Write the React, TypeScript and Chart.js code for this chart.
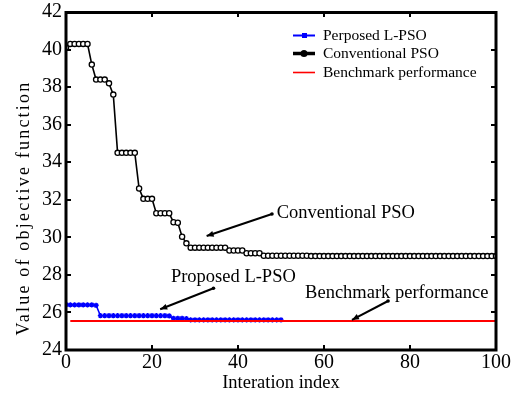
import React, { useEffect, useRef } from 'react';
import { Chart, registerables } from 'chart.js';

Chart.register(...registerables);

const SERIF = "'Liberation Serif', 'Times New Roman', Times, serif";
Chart.defaults.font.family = SERIF;
Chart.defaults.color = '#000';

// ---- data ----
const seriesNames = ['Perposed L-PSO', 'Conventional PSO', 'Benchmark performance'];

// Proposed L-PSO, iterations 0..50
const proposedLPSO = [
  26.42, 26.4, 26.4, 26.4, 26.4, 26.4, 26.4, 26.38,
  25.83, 25.83, 25.83, 25.83, 25.83, 25.83, 25.83, 25.83, 25.83,
  25.83, 25.83, 25.83, 25.83, 25.83, 25.83, 25.83, 25.82,
  25.68, 25.68, 25.68, 25.67,
  25.6, 25.6, 25.6, 25.6, 25.6, 25.6, 25.6, 25.6, 25.6, 25.6, 25.6,
  25.6, 25.6, 25.6, 25.6, 25.6, 25.6, 25.6, 25.6, 25.6, 25.6, 25.6,
];

// Conventional PSO, iterations 0..100
const conventionalPSO = [
  40.1, 40.3, 40.3, 40.3, 40.3, 40.3, 39.2, 38.4, 38.4, 38.4,
  38.2, 37.6, 34.5, 34.5, 34.5, 34.5, 34.5, 32.6, 32.05, 32.05,
  32.05, 31.28, 31.28, 31.28, 31.28, 30.8, 30.78, 30.03, 29.68, 29.45,
  29.45, 29.45, 29.45, 29.45, 29.45, 29.45, 29.45, 29.45, 29.3, 29.3,
  29.3, 29.3, 29.15, 29.15, 29.15, 29.15, 29.02, 29.02, 29.02, 29.02,
  29.02, 29.02, 29.02, 29.02, 29.02, 29.02, 29.02, 29.0, 29.0, 29.0,
  29.0, 29.0, 29.0, 29.0, 29.0, 29.0, 29.0, 29.0, 29.0, 29.0,
  29.0, 29.0, 29.0, 29.0, 29.0, 29.0, 29.0, 29.0, 29.0, 29.0,
  29.0, 29.0, 29.0, 29.0, 29.0, 29.0, 29.0, 29.0, 29.0, 29.0,
  29.0, 29.0, 29.0, 29.0, 29.0, 29.0, 29.0, 29.0, 29.0, 29.0,
  29.0,
];

const benchmarkX = [1, 100];
const benchmarkValues = [25.55, 25.55];

const xTicks = [0, 20, 40, 60, 80, 100];
const yTicks = [24, 26, 28, 30, 32, 34, 36, 38, 40, 42];

const xAxisTitle = 'Interation index';
const yAxisTitle = 'Value of objective function';

const annotationLabels = ['Conventional PSO', 'Proposed L-PSO', 'Benchmark performance'];
// annotation placement (data coordinates)
const annotationTextAt = [[49.0, 31.28], [24.4, 27.9], [55.6, 27.02]];
const annotationArrowFrom = [[47.9, 31.24], [34.3, 27.29], [74.9, 26.61]];
const annotationArrowTo = [[32.7, 30.07], [21.9, 26.17], [66.5, 25.6]];

function drawArrow(ctx: CanvasRenderingContext2D, x1: number, y1: number, x2: number, y2: number) {
  ctx.beginPath();
  ctx.moveTo(x1, y1);
  ctx.lineTo(x2, y2);
  ctx.lineWidth = 2;
  ctx.stroke();
  const a = Math.atan2(y2 - y1, x2 - x1);
  const L = 7, W = 3;
  const c = Math.cos(a), s = Math.sin(a);
  ctx.beginPath();
  ctx.moveTo(x2, y2);
  ctx.lineTo(x2 - L * c + W * s, y2 - L * s - W * c);
  ctx.lineTo(x2 - L * c - W * s, y2 - L * s + W * c);
  ctx.closePath();
  ctx.fill();
  ctx.beginPath();
  ctx.arc(x1, y1, 1.8, 0, Math.PI * 2);
  ctx.fill();
}

const decorPlugin = {
  id: 'decor',
  afterDraw(chart: any) {
    const { ctx, chartArea: ca } = chart;
    const xs = chart.scales.x;
    const ys = chart.scales.y;
    ctx.save();
    ctx.strokeStyle = '#000';
    ctx.fillStyle = '#000';

    // inward ticks
    ctx.lineWidth = 2;
    ctx.beginPath();
    xTicks.forEach((v) => {
      const px = Math.round(xs.getPixelForValue(v));
      ctx.moveTo(px, ca.bottom);
      ctx.lineTo(px, ca.bottom - 5);
      ctx.moveTo(px, ca.top);
      ctx.lineTo(px, ca.top + 5);
    });
    yTicks.forEach((v) => {
      const py = Math.round(ys.getPixelForValue(v));
      ctx.moveTo(ca.left, py);
      ctx.lineTo(ca.left + 5, py);
      ctx.moveTo(ca.right, py);
      ctx.lineTo(ca.right - 5, py);
    });
    ctx.stroke();

    // frame
    ctx.lineWidth = 3;
    ctx.strokeRect(ca.left, ca.top + 0.5, ca.right - ca.left, ca.bottom - ca.top - 0.5);

    // legend
    const lx = ca.right - 203;
    const rows = [ca.top + 23.5, ca.top + 41.5, ca.top + 60.5];
    ctx.font = `15.5px ${SERIF}`;
    ctx.textBaseline = 'middle';
    ctx.textAlign = 'left';
    chart.data.datasets.forEach((ds: any, i: number) => {
      const yy = rows[i];
      ctx.strokeStyle = ds.borderColor;
      ctx.fillStyle = ds.borderColor;
      if (i === 0) {
        ctx.lineWidth = 2;
        ctx.beginPath(); ctx.moveTo(lx, yy); ctx.lineTo(lx + 22, yy); ctx.stroke();
        ctx.fillRect(lx + 9, yy - 2.5, 5, 5);
      } else if (i === 1) {
        ctx.lineWidth = 3.5;
        ctx.beginPath(); ctx.moveTo(lx, yy); ctx.lineTo(lx + 22, yy); ctx.stroke();
        ctx.beginPath(); ctx.arc(lx + 11, yy, 3.5, 0, Math.PI * 2); ctx.fill();
      } else {
        ctx.lineWidth = 1.6;
        ctx.beginPath(); ctx.moveTo(lx, yy); ctx.lineTo(lx + 22, yy); ctx.stroke();
      }
      ctx.fillStyle = '#000';
      ctx.fillText(ds.label, lx + 30, yy);
    });

    // annotations
    ctx.strokeStyle = '#000';
    ctx.fillStyle = '#000';
    ctx.font = `18.5px ${SERIF}`;
    annotationLabels.forEach((t, i) => {
      const [tx, ty] = annotationTextAt[i];
      ctx.fillText(t, xs.getPixelForValue(tx), ys.getPixelForValue(ty));
      const [fx, fy] = annotationArrowFrom[i];
      const [gx, gy] = annotationArrowTo[i];
      drawArrow(ctx, xs.getPixelForValue(fx), ys.getPixelForValue(fy), xs.getPixelForValue(gx), ys.getPixelForValue(gy));
    });

    // y axis title
    ctx.save();
    ctx.translate(24, 208);
    ctx.rotate(-Math.PI / 2);
    ctx.font = `18px ${SERIF}`;
    (ctx as any).letterSpacing = '2.2px';
    ctx.textAlign = 'center';
    ctx.textBaseline = 'middle';
    ctx.fillText(yAxisTitle, 0, 0);
    ctx.restore();

    ctx.restore();
  },
};

export default function App() {
  const ref = useRef<HTMLCanvasElement | null>(null);

  useEffect(() => {
    const canvas = ref.current;
    if (!canvas) return;
    const chart = new Chart(canvas, {
      type: 'line',
      data: {
        datasets: [
          {
            label: seriesNames[0],
            data: proposedLPSO.map((v, i) => ({ x: i, y: v })),
            borderColor: '#0000ff',
            backgroundColor: '#0000ff',
            borderWidth: 1.5,
            pointStyle: 'star',
            pointRadius: 2.6,
            pointBorderWidth: 1.4,
            pointBorderColor: '#0000ff',
            pointBackgroundColor: '#0000ff',
            order: 2,
          },
          {
            label: seriesNames[1],
            data: conventionalPSO.map((v, i) => ({ x: i, y: v })),
            borderColor: '#000000',
            backgroundColor: '#000000',
            borderWidth: 1.6,
            pointStyle: 'circle',
            pointRadius: 2.6,
            pointBorderWidth: 1.3,
            pointBorderColor: '#000000',
            pointBackgroundColor: '#ffffff',
            order: 1,
          },
          {
            label: seriesNames[2],
            data: benchmarkValues.map((v, i) => ({ x: benchmarkX[i], y: v })),
            borderColor: '#ff0000',
            backgroundColor: '#ff0000',
            borderWidth: 2,
            pointRadius: 0,
            order: 0,
          },
        ],
      },
      options: {
        animation: false,
        responsive: false,
        devicePixelRatio: 1,
        layout: { padding: { top: 12, right: 25, left: 0, bottom: 0 } },
        plugins: { legend: { display: false }, tooltip: { enabled: false } },
        scales: {
          x: {
            type: 'linear',
            min: 0,
            max: 100,
            grid: { display: false, drawTicks: false },
            border: { display: false },
            ticks: {
              stepSize: 20,
              padding: 1,
              color: '#000',
              font: { family: SERIF, size: 20, weight: 'normal' },
            },
            title: {
              display: true,
              text: xAxisTitle,
              color: '#000',
              padding: { top: 0, bottom: 0 },
              font: { family: SERIF, size: 18.5 },
            },
            afterFit: (s: any) => {
              s.height = 44;
              s.paddingLeft = 0;
              s.paddingRight = 0;
            },
          },
          y: {
            type: 'linear',
            min: 24,
            max: 42,
            grid: { display: false, drawTicks: false },
            border: { display: false },
            ticks: {
              stepSize: 2,
              padding: 4,
              color: '#000',
              font: { family: SERIF, size: 20, weight: 'normal' },
            },
            afterFit: (s: any) => {
              s.width = 66;
              s.paddingTop = 0;
              s.paddingBottom = 0;
            },
          },
        },
      },
      plugins: [decorPlugin],
    });
    return () => chart.destroy();
  }, []);

  return (
    <div style={{ position: 'fixed', left: 0, top: 0, width: 521, height: 394, background: '#fff' }}>
      <canvas ref={ref} width={521} height={394} style={{ display: 'block', width: 521, height: 394 }} />
    </div>
  );
}
